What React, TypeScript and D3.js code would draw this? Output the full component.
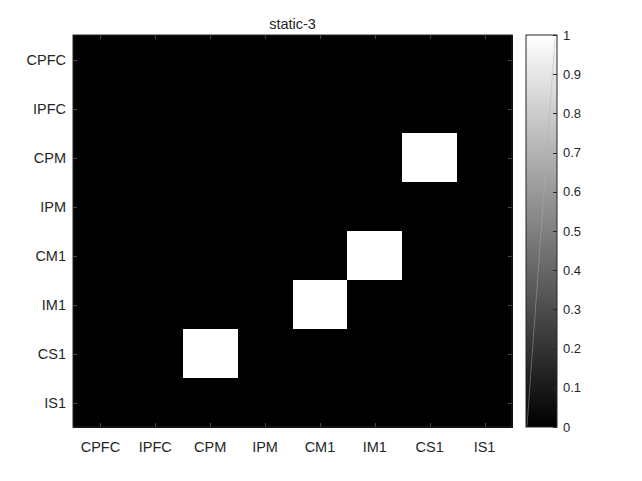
import React from 'react';
import * as d3 from 'd3';

const rowLabels = ['CPFC', 'IPFC', 'CPM', 'IPM', 'CM1', 'IM1', 'CS1', 'IS1'];
const colLabels = ['CPFC', 'IPFC', 'CPM', 'IPM', 'CM1', 'IM1', 'CS1', 'IS1'];
const matrix: number[][] = [
  [0, 0, 0, 0, 0, 0, 0, 0],
  [0, 0, 0, 0, 0, 0, 0, 0],
  [0, 0, 0, 0, 0, 0, 1, 0],
  [0, 0, 0, 0, 0, 0, 0, 0],
  [0, 0, 0, 0, 0, 1, 0, 0],
  [0, 0, 0, 0, 1, 0, 0, 0],
  [0, 0, 1, 0, 0, 0, 0, 0],
  [0, 0, 0, 0, 0, 0, 0, 0],
];
const colorbarTicks = [0, 0.1, 0.2, 0.3, 0.4, 0.5, 0.6, 0.7, 0.8, 0.9, 1];
const title = 'static-3';

const W = 642;
const H = 481;
const L = 73, R = 512, T = 35, B = 427;
const CBL = 526, CBR = 557;
const FONT = '"Liberation Sans", Arial, Helvetica, sans-serif';
const TXT = '#262626';

export default function App() {
  const x = d3.scaleBand<string>().domain(colLabels).range([L, R]).padding(0);
  const y = d3.scaleBand<string>().domain(rowLabels).range([T, B]).padding(0);
  const color = d3.scaleLinear<string>().domain([0, 1]).range(['#000000', '#ffffff']);
  const cb = d3.scaleLinear().domain([0, 1]).range([B, T]);
  const tick = 4;

  return (
    <svg width={W} height={H} style={{ position: 'absolute', left: 0, top: 0, background: '#fff' }}>
      <defs>
        <linearGradient id="gray" x1="0" y1="1" x2="0" y2="0">
          <stop offset="0%" stopColor="#000" />
          <stop offset="100%" stopColor="#fff" />
        </linearGradient>
      </defs>
      <rect x={0} y={0} width={W} height={H} fill="#fff" />
      {/* cells */}
      {matrix.map((row, i) =>
        row.map((v, j) => (
          <rect
            key={`${i}-${j}`}
            x={x(colLabels[j])!}
            y={y(rowLabels[i])!}
            width={x.bandwidth() + 0.5}
            height={y.bandwidth() + 0.5}
            fill={color(v)}
            shapeRendering="crispEdges"
          />
        ))
      )}
      {/* ticks inside plot */}
      <g stroke="#4a4a4a" strokeWidth={1}>
        {colLabels.map((c) => {
          const cx = Math.round(x(c)! + x.bandwidth() / 2) + 0.5;
          return (
            <g key={c}>
              <line x1={cx} x2={cx} y1={B} y2={B - tick} />
              <line x1={cx} x2={cx} y1={T} y2={T + tick} />
            </g>
          );
        })}
        {rowLabels.map((r) => {
          const cy = Math.round(y(r)! + y.bandwidth() / 2) + 0.5;
          return (
            <g key={r}>
              <line x1={L} x2={L + tick} y1={cy} y2={cy} />
              <line x1={R} x2={R - tick} y1={cy} y2={cy} />
            </g>
          );
        })}
      </g>
      <rect x={L} y={T} width={R - L} height={B - T} fill="none" stroke={TXT} strokeWidth={1} />
      {/* axis labels */}
      <g fontFamily={FONT} fontSize={14.5} fill={TXT}>
        {colLabels.map((c) => (
          <text key={c} x={x(c)! + x.bandwidth() / 2} y={451.5} textAnchor="middle">{c}</text>
        ))}
        {rowLabels.map((r) => (
          <text key={r} x={66} y={y(r)! + y.bandwidth() / 2} textAnchor="end" dominantBaseline="central">{r}</text>
        ))}
        <text x={(L + R) / 2} y={29} textAnchor="middle">{title}</text>
      </g>
      {/* colorbar */}
      <rect x={CBL} y={T} width={CBR - CBL} height={B - T} fill="url(#gray)" />
      <line x1={CBL + 1} y1={B - 1} x2={CBR - 2} y2={T + 4} stroke="#b0b0b0" strokeOpacity={0.45} strokeWidth={1} />
      <rect x={CBL} y={T} width={CBR - CBL} height={B - T} fill="none" stroke={TXT} strokeWidth={1} />
      <g stroke={TXT} strokeWidth={1}>
        {colorbarTicks.map((t) => {
          const ty = Math.round(cb(t)) + 0.5;
          return <line key={t} x1={CBR} x2={CBR - tick} y1={ty} y2={ty} />;
        })}
      </g>
      <g fontFamily={FONT} fontSize={13} fill={TXT}>
        {colorbarTicks.map((t) => (
          <text key={t} x={CBR + 6} y={cb(t)} dominantBaseline="central">{String(t)}</text>
        ))}
      </g>
    </svg>
  );
}
